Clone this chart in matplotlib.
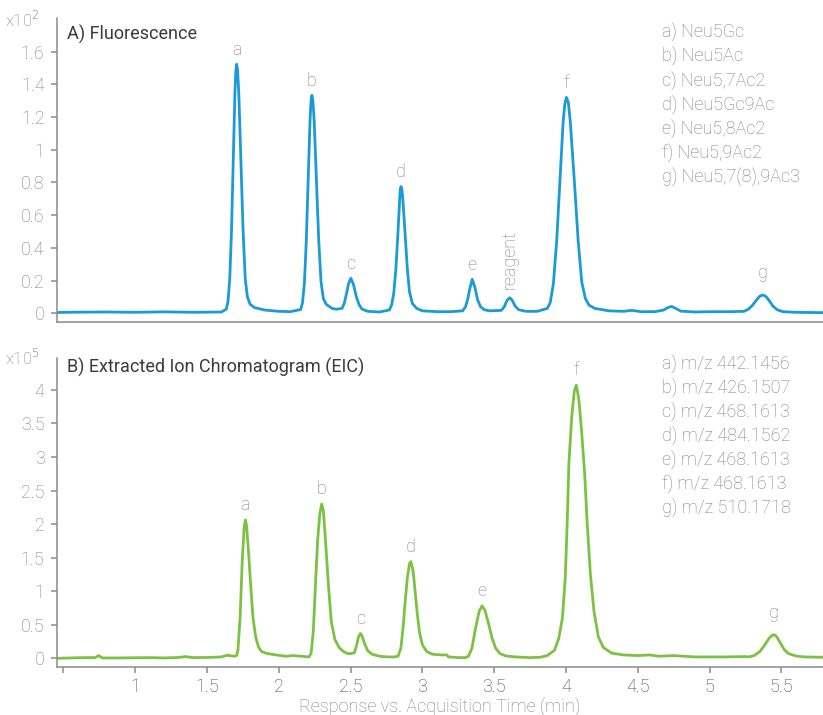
import matplotlib
matplotlib.use('Agg')
import matplotlib.pyplot as plt

plt.rcParams['font.family'] = ['Roboto', 'DejaVu Sans']
plt.rcParams['font.weight'] = 'light'

fld_time = [0.46, 0.6, 0.8, 1.0, 1.2, 1.4, 1.6,
            1.634, 1.646, 1.658, 1.670, 1.682, 1.694, 1.700, 1.706, 1.7125, 1.721, 1.736, 1.751, 1.766, 1.781, 1.80, 1.83, 1.90, 2.0, 2.08,
            2.152, 2.165, 2.178, 2.191, 2.204, 2.217, 2.224, 2.230, 2.237, 2.246, 2.262, 2.278, 2.294, 2.31, 2.33, 2.37, 2.40,
            2.44, 2.455, 2.47, 2.485, 2.502, 2.52, 2.54, 2.56, 2.58, 2.62, 2.70,
            2.77, 2.785, 2.80, 2.815, 2.83, 2.84, 2.845, 2.851, 2.858, 2.865, 2.88, 2.895, 2.91, 2.93, 2.96, 3.0, 3.1, 3.2,
            3.28, 3.30, 3.315, 3.33, 3.347, 3.365, 3.385, 3.405, 3.43, 3.47,
            3.55, 3.57, 3.59, 3.608, 3.625, 3.645, 3.67, 3.72, 3.80,
            3.87, 3.89, 3.912, 3.935, 3.958, 3.98, 3.992, 4.003, 4.016, 4.03, 4.058, 4.085, 4.11, 4.135, 4.16, 4.2, 4.3,
            4.40, 4.46, 4.52, 4.62, 4.68, 4.71, 4.735, 4.76, 4.80, 4.90, 5.0, 5.15,
            5.24, 5.27, 5.30, 5.33, 5.35, 5.37, 5.39, 5.415, 5.44, 5.47, 5.51, 5.6, 5.79]
fld_signal = [0.005, 0.007, 0.008, 0.006, 0.009, 0.006, 0.008,
              0.025, 0.075, 0.21, 0.50, 0.93, 1.345, 1.478, 1.523, 1.488, 1.345, 0.93, 0.50, 0.21, 0.10, 0.055, 0.035, 0.02, 0.012, 0.01,
              0.023, 0.066, 0.187, 0.44, 0.81, 1.177, 1.298, 1.333, 1.30, 1.177, 0.81, 0.44, 0.19, 0.09, 0.055, 0.03, 0.025,
              0.03, 0.06, 0.115, 0.18, 0.214, 0.175, 0.10, 0.05, 0.025, 0.012, 0.008,
              0.02, 0.05, 0.12, 0.27, 0.50, 0.67, 0.755, 0.775, 0.75, 0.68, 0.48, 0.27, 0.13, 0.06, 0.03, 0.015, 0.01, 0.01,
              0.015, 0.04, 0.085, 0.15, 0.208, 0.16, 0.08, 0.04, 0.022, 0.015,
              0.018, 0.04, 0.08, 0.095, 0.08, 0.045, 0.022, 0.012, 0.012,
              0.03, 0.065, 0.18, 0.44, 0.81, 1.17, 1.28, 1.32, 1.29, 1.17, 0.81, 0.44, 0.19, 0.09, 0.05, 0.03, 0.015,
              0.012, 0.018, 0.01, 0.01, 0.02, 0.035, 0.042, 0.032, 0.013, 0.008, 0.01, 0.01,
              0.012, 0.025, 0.05, 0.085, 0.105, 0.112, 0.105, 0.078, 0.045, 0.022, 0.01, 0.006, 0.004]

eic_time = [0.46, 0.55, 0.65, 0.72, 0.745, 0.77, 0.9, 1.0, 1.1, 1.2, 1.3, 1.35, 1.4, 1.5, 1.6, 1.64, 1.67,
            1.69, 1.705, 1.715, 1.73, 1.745, 1.758, 1.767, 1.775, 1.79, 1.805, 1.82, 1.84, 1.86, 1.88, 1.92, 1.98, 2.05, 2.1, 2.16,
            2.21, 2.225, 2.24, 2.255, 2.27, 2.285, 2.298, 2.31, 2.325, 2.345, 2.365, 2.39, 2.42, 2.45, 2.48,
            2.50, 2.525, 2.54, 2.555, 2.568, 2.58, 2.60, 2.62, 2.65, 2.70, 2.76,
            2.80, 2.83, 2.85, 2.865, 2.88, 2.895, 2.91, 2.92, 2.935, 2.95, 2.965, 2.98, 3.0, 3.03, 3.07, 3.13, 3.17, 3.18, 3.25,
            3.30, 3.32, 3.345, 3.37, 3.395, 3.415, 3.435, 3.46, 3.485, 3.51, 3.54, 3.58, 3.65, 3.75,
            3.82, 3.87, 3.92, 3.95, 3.975, 3.995, 4.008, 4.02, 4.04, 4.058, 4.072, 4.09, 4.108, 4.13, 4.148, 4.17, 4.195, 4.225,
            4.26, 4.32, 4.4, 4.5, 4.58, 4.65, 4.75, 4.9, 5.1, 5.25,
            5.27, 5.31, 5.35, 5.385, 5.415, 5.435, 5.447, 5.465, 5.49, 5.52, 5.55, 5.6, 5.66, 5.79]
eic_signal = [0.0, 0.005, 0.01, 0.01, 0.04, 0.005, 0.005, 0.008, 0.01, 0.005, 0.012, 0.025, 0.01, 0.012, 0.02, 0.045, 0.035,
              0.03, 0.04, 0.12, 0.6, 1.45, 1.95, 2.06, 1.98, 1.55, 1.05, 0.6, 0.3, 0.16, 0.1, 0.07, 0.05, 0.03, 0.04, 0.03,
              0.02, 0.08, 0.4, 1.1, 1.75, 2.15, 2.30, 2.2, 1.75, 1.1, 0.55, 0.28, 0.16, 0.1, 0.07,
              0.07, 0.08, 0.18, 0.32, 0.37, 0.33, 0.2, 0.11, 0.06, 0.03, 0.02,
              0.02, 0.03, 0.15, 0.45, 0.85, 1.2, 1.41, 1.44, 1.3, 0.98, 0.65, 0.38, 0.2, 0.1, 0.06, 0.05, 0.05, 0.02, 0.01,
              0.01, 0.03, 0.15, 0.45, 0.7, 0.78, 0.72, 0.52, 0.3, 0.15, 0.07, 0.035, 0.02, 0.01,
              0.015, 0.04, 0.12, 0.3, 0.6, 1.2, 2.0, 2.9, 3.6, 3.98, 4.07, 3.85, 3.4, 2.75, 2.0, 1.25, 0.7, 0.32,
              0.16, 0.075, 0.05, 0.04, 0.05, 0.03, 0.04, 0.02, 0.02, 0.025,
              0.02, 0.04, 0.1, 0.2, 0.3, 0.34, 0.35, 0.33, 0.24, 0.13, 0.07, 0.035, 0.02, 0.015]

# peak labels: (label, apex time, apex height)
fld_labels = ['a', 'b', 'c', 'd', 'e', 'f', 'g']
fld_label_t = [1.706, 2.230, 2.502, 2.851, 3.347, 4.003, 5.370]
fld_label_h = [1.523, 1.333, 0.214, 0.775, 0.208, 1.32, 0.112]
reagent_t, reagent_h = 3.608, 0.095

eic_labels = ['a', 'b', 'c', 'd', 'e', 'f', 'g']
eic_label_t = [1.767, 2.298, 2.568, 2.92, 3.415, 4.072, 5.447]
eic_label_h = [2.06, 2.30, 0.37, 1.44, 0.78, 4.07, 0.35]

fld_legend = ['a) Neu5Gc', 'b) Neu5Ac', 'c) Neu5,7Ac2', 'd) Neu5Gc9Ac',
              'e) Neu5,8Ac2', 'f) Neu5,9Ac2', 'g) Neu5,7(8),9Ac3']
eic_legend = ['a) m/z 442.1456', 'b) m/z 426.1507', 'c) m/z 468.1613', 'd) m/z 484.1562',
              'e) m/z 468.1613', 'f) m/z 468.1613', 'g) m/z 510.1718']

fld_yticks = [0, 0.2, 0.4, 0.6, 0.8, 1, 1.2, 1.4, 1.6]
eic_yticks = [0, 0.5, 1, 1.5, 2, 2.5, 3, 3.5, 4]
xticks = [0.5, 1, 1.5, 2, 2.5, 3, 3.5, 4, 4.5, 5, 5.5]
xticklabels = ['', '1', '1.5', '2', '2.5', '3', '3.5', '4', '4.5', '5', '5.5']

BLUE = '#1b9ad6'
GREEN = '#7cc242'
AXIS = '#8a8a8e'
LIGHT = '#7e7e83'
DARK = '#3a3a3c'
FS = 13

fig = plt.figure(figsize=(8.23, 7.15), dpi=100)
ax1 = fig.add_axes([0.0693, 0.5497, 0.9307, 0.4252])
ax2 = fig.add_axes([0.0693, 0.0676, 0.9307, 0.4317])

for ax in (ax1, ax2):
    ax.set_xlim(0.455, 5.79)
    for s in ('top', 'right'):
        ax.spines[s].set_visible(False)
    for s in ('left', 'bottom'):
        ax.spines[s].set_color(AXIS)
        ax.spines[s].set_linewidth(1.1)
    ax.tick_params(axis='y', colors=AXIS, labelcolor=LIGHT, labelsize=FS,
                   length=4, width=1.1, pad=5)

# --- top: fluorescence ---
ax1.plot(fld_time, fld_signal, color=BLUE, lw=2.0, solid_joinstyle='round')
ax1.set_ylim(-0.053, 1.806)
ax1.set_yticks(fld_yticks)
ax1.set_yticklabels(['{:g}'.format(v) for v in fld_yticks])
ax1.set_xticks([])
ax1.text(0.013, 0.947, 'A) Fluorescence', transform=ax1.transAxes, fontsize=FS,
         color=DARK, va='center', ha='left', fontweight='normal')
fig.text(0.006, 0.972, r'x10$^{2}$', fontsize=12, color=LIGHT, va='center')
for lab, t, h in zip(fld_labels, fld_label_t, fld_label_h):
    off = 12 if lab == 'g' else 7
    ax1.annotate(lab, (t, h), xytext=(0, off), textcoords='offset points',
                 ha='center', va='baseline', fontsize=FS, color=LIGHT)
ax1.annotate('reagent', (reagent_t, reagent_h), xytext=(0, 6), textcoords='offset points',
             ha='center', va='bottom', rotation=90, fontsize=FS, color=LIGHT)
for i, s in enumerate(fld_legend):
    ax1.text(0.79, 0.955 - i * 0.0796, s, transform=ax1.transAxes, fontsize=FS,
             color=LIGHT, va='center', ha='left')

# --- bottom: EIC ---
ax2.plot(eic_time, eic_signal, color=GREEN, lw=2.0, solid_joinstyle='round')
ax2.set_ylim(-0.125, 4.475)
ax2.set_yticks(eic_yticks)
ax2.set_yticklabels(['{:g}'.format(v) for v in eic_yticks])
ax2.set_xticks(xticks)
ax2.set_xticklabels(xticklabels)
ax2.tick_params(axis='x', colors=AXIS, labelcolor='#444446', labelsize=FS,
                length=4, width=1.1, pad=4)
ax2.set_xlabel('Response vs. Acquisition Time (min)', fontsize=FS, color=LIGHT,
               labelpad=1, fontweight='light')
ax2.text(0.013, 0.968, 'B) Extracted Ion Chromatogram (EIC)', transform=ax2.transAxes,
         fontsize=FS, color=DARK, va='center', ha='left', fontweight='normal')
fig.text(0.006, 0.5, r'x10$^{5}$', fontsize=12, color=LIGHT, va='center')
for lab, t, h in zip(eic_labels, eic_label_t, eic_label_h):
    off = 12 if lab == 'g' else 7
    ax2.annotate(lab, (t, h), xytext=(0, off), textcoords='offset points',
                 ha='center', va='baseline', fontsize=FS, color=LIGHT)
for i, s in enumerate(eic_legend):
    ax2.text(0.79, 0.982 - i * 0.0775, s, transform=ax2.transAxes, fontsize=FS,
             color=LIGHT, va='center', ha='left')

fig.savefig('out.png', dpi=100)
